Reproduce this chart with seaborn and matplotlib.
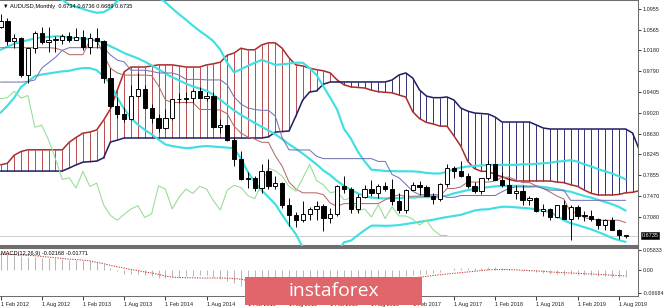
import numpy as np
import pandas as pd
import matplotlib
matplotlib.use("Agg")
import matplotlib.pyplot as plt
import seaborn as sns
from matplotlib.patches import Rectangle

# ---------------- data (AUDUSD monthly, Feb 2012 .. Sep 2019) ----------------
opens = [1.0620, 1.0730, 1.0350, 1.0410, 0.9725, 1.0230, 1.0510, 1.0330, 1.0380, 1.0380,
         1.0440, 1.0380, 1.0430, 1.0240, 1.0410, 1.0360, 0.9660, 0.9140, 0.8990, 0.8910,
         0.9330, 0.9460, 0.9110, 0.8920, 0.8740, 0.8930, 0.9270, 0.9280, 0.9300, 0.9420,
         0.9290, 0.9340, 0.8750, 0.8790, 0.8510, 0.8160, 0.7780, 0.7810, 0.7620, 0.7930,
         0.7650, 0.7710, 0.7310, 0.7110, 0.7020, 0.7130, 0.7230, 0.7290, 0.7070, 0.7140,
         0.7660, 0.7600, 0.7230, 0.7450, 0.7600, 0.7520, 0.7650, 0.7600, 0.7380, 0.7210,
         0.7580, 0.7670, 0.7630, 0.7480, 0.7420, 0.7690, 0.7990, 0.7940, 0.7840, 0.7650,
         0.7560, 0.7800, 0.8060, 0.7760, 0.7680, 0.7530, 0.7560, 0.7400, 0.7430, 0.7190,
         0.7230, 0.7080, 0.7310, 0.7050, 0.7270, 0.7100, 0.7100, 0.7040, 0.6930, 0.7020,
         0.6840, 0.6734]
highs = [1.0857, 1.0780, 1.0480, 1.0420, 1.0240, 1.0540, 1.0620, 1.0620, 1.0450, 1.0480,
         1.0530, 1.0600, 1.0550, 1.0500, 1.0597, 1.0380, 0.9860, 0.9320, 0.9120, 0.9530,
         0.9760, 0.9530, 0.9180, 0.8990, 0.9080, 0.9280, 0.9380, 0.9400, 0.9460, 0.9505,
         0.9400, 0.9400, 0.8910, 0.8800, 0.8560, 0.8300, 0.7910, 0.7850, 0.8070, 0.8163,
         0.7850, 0.7730, 0.7440, 0.7170, 0.7380, 0.7260, 0.7380, 0.7320, 0.7240, 0.7680,
         0.7835, 0.7640, 0.7510, 0.7680, 0.7760, 0.7700, 0.7730, 0.7780, 0.7530, 0.7610,
         0.7740, 0.7750, 0.7680, 0.7520, 0.7710, 0.8066, 0.8020, 0.8125, 0.7900, 0.7730,
         0.7810, 0.8136, 0.8070, 0.7920, 0.7810, 0.7680, 0.7680, 0.7480, 0.7450, 0.7320,
         0.7240, 0.7310, 0.7390, 0.7296, 0.7300, 0.7200, 0.7210, 0.7070, 0.7050, 0.7080,
         0.6860, 0.6736]
lows = [1.0590, 1.0280, 1.0220, 0.9690, 0.9580, 1.0130, 1.0300, 1.0150, 1.0150, 1.0300,
        1.0340, 1.0380, 1.0190, 1.0120, 1.0220, 0.9580, 0.9110, 0.8920, 0.8850, 0.8880,
        0.9320, 0.9080, 0.8820, 0.8660, 0.8710, 0.8890, 0.9200, 0.9210, 0.9210, 0.9290,
        0.9240, 0.8740, 0.8640, 0.8490, 0.8035, 0.7767, 0.7626, 0.7561, 0.7533, 0.7600,
        0.7600, 0.7250, 0.6908, 0.6893, 0.6980, 0.7020, 0.7020, 0.6827, 0.6970, 0.7090,
        0.7520, 0.7150, 0.7150, 0.7440, 0.7480, 0.7440, 0.7560, 0.7310, 0.7160, 0.7160,
        0.7580, 0.7490, 0.7470, 0.7330, 0.7370, 0.7640, 0.7810, 0.7830, 0.7620, 0.7530,
        0.7500, 0.7760, 0.7760, 0.7640, 0.7520, 0.7410, 0.7310, 0.7310, 0.7180, 0.7090,
        0.7020, 0.7060, 0.7040, 0.6650, 0.7050, 0.7000, 0.7010, 0.6860, 0.6830, 0.6830,
        0.6680, 0.6689]
closes = [1.0730, 1.0350, 1.0410, 0.9725, 1.0230, 1.0510, 1.0330, 1.0380, 1.0380, 1.0440,
          1.0380, 1.0430, 1.0240, 1.0410, 1.0360, 0.9660, 0.9140, 0.8990, 0.8910, 0.9330,
          0.9460, 0.9110, 0.8920, 0.8740, 0.8930, 0.9270, 0.9280, 0.9300, 0.9420, 0.9290,
          0.9340, 0.8750, 0.8790, 0.8510, 0.8160, 0.7780, 0.7810, 0.7620, 0.7930, 0.7650,
          0.7710, 0.7310, 0.7110, 0.7020, 0.7130, 0.7230, 0.7290, 0.7070, 0.7140, 0.7660,
          0.7600, 0.7230, 0.7450, 0.7600, 0.7520, 0.7650, 0.7600, 0.7380, 0.7210, 0.7580,
          0.7670, 0.7630, 0.7480, 0.7420, 0.7690, 0.7990, 0.7940, 0.7840, 0.7650, 0.7560,
          0.7800, 0.8060, 0.7760, 0.7680, 0.7530, 0.7560, 0.7400, 0.7430, 0.7190, 0.7230,
          0.7080, 0.7310, 0.7050, 0.7270, 0.7100, 0.7100, 0.7040, 0.6930, 0.7020, 0.6840,
          0.6740, 0.6735]

# Bollinger bands (upper / middle / lower), one value per month
bb_upper = [1.125, 1.123, 1.120, 1.118, 1.116, 1.115, 1.116, 1.117, 1.116, 1.112,
            1.103, 1.099, 1.095, 1.091, 1.088, 1.089, 1.096, 1.110, 1.122, 1.128,
            1.130, 1.128, 1.125, 1.116, 1.1075, 1.096, 1.085, 1.075, 1.064, 1.054,
            1.045, 1.035, 1.019, 0.995, 0.977, 0.983, 0.989, 0.995, 1.000, 0.996,
            0.991, 0.992, 0.9935, 0.995, 0.995, 0.985, 0.972, 0.951, 0.930, 0.908,
            0.872, 0.854, 0.830, 0.8115, 0.796, 0.795, 0.7936, 0.7935, 0.793, 0.793,
            0.793, 0.792, 0.790, 0.789, 0.789, 0.792, 0.797, 0.800, 0.802, 0.803,
            0.804, 0.8048, 0.805, 0.805, 0.805, 0.805, 0.806, 0.806, 0.807, 0.808,
            0.809, 0.811, 0.812, 0.8137, 0.811, 0.806, 0.802, 0.797, 0.793, 0.789,
            0.784, 0.778]
bb_middle = [1.019, 1.025, 1.030, 1.034, 1.037, 1.0403, 1.042, 1.043, 1.044, 1.044,
             1.0415, 1.041, 1.040, 1.038, 1.036, 1.032, 1.0257, 1.0196, 1.013, 1.008,
             1.003, 0.997, 0.990, 0.983, 0.975, 0.968, 0.962, 0.956, 0.951, 0.947,
             0.943, 0.935, 0.926, 0.916, 0.9065, 0.898, 0.8905, 0.883, 0.876, 0.869,
             0.862, 0.853, 0.8435, 0.835, 0.826, 0.816, 0.806, 0.7946, 0.786, 0.775,
             0.766, 0.759, 0.752, 0.7475, 0.744, 0.743, 0.7426, 0.743, 0.743, 0.744,
             0.744, 0.745, 0.745, 0.745, 0.7455, 0.748, 0.752, 0.755, 0.758, 0.760,
             0.762, 0.7636, 0.765, 0.766, 0.766, 0.766, 0.766, 0.765, 0.765, 0.764,
             0.762, 0.760, 0.757, 0.7551, 0.751, 0.747, 0.744, 0.740, 0.736, 0.732,
             0.727, 0.720]
bb_lower = [0.902, 0.915, 0.930, 0.950, 0.960, 0.970, 0.973, 0.975, 0.977, 0.979,
            0.980, 0.983, 0.985, 0.985, 0.981, 0.970, 0.955, 0.930, 0.909, 0.892,
            0.880, 0.870, 0.862, 0.852, 0.843, 0.840, 0.838, 0.836, 0.837, 0.839,
            0.840, 0.839, 0.838, 0.837, 0.836, 0.817, 0.792, 0.773, 0.758, 0.745,
            0.732, 0.712, 0.6935, 0.676, 0.6514, 0.645, 0.640, 0.638, 0.639, 0.642,
            0.661, 0.664, 0.674, 0.6835, 0.692, 0.692, 0.6916, 0.692, 0.693, 0.695,
            0.697, 0.699, 0.701, 0.703, 0.7057, 0.708, 0.710, 0.712, 0.716, 0.720,
            0.722, 0.7224, 0.725, 0.727, 0.727, 0.726, 0.725, 0.724, 0.722, 0.720,
            0.717, 0.710, 0.702, 0.6965, 0.693, 0.689, 0.685, 0.680, 0.675, 0.669,
            0.665, 0.6618]

# Ichimoku: Tenkan-sen and Kijun-sen, one value per month
tenkan = [1.023, 1.023, 1.023, 1.023, 1.023, 1.023, 1.023, 1.023, 1.022, 1.018,
          1.010, 1.010, 1.010, 1.037, 1.037, 1.010, 0.985, 0.976, 0.972, 0.972,
          0.972, 0.972, 0.971, 0.952, 0.926, 0.921, 0.921, 0.921, 0.921, 0.908,
          0.908, 0.908, 0.907, 0.900, 0.877, 0.864, 0.857, 0.853, 0.847, 0.847,
          0.822, 0.8025, 0.773, 0.760, 0.753, 0.753, 0.753, 0.7495, 0.734, 0.728,
          0.733, 0.733, 0.733, 0.733, 0.733, 0.733, 0.740, 0.746, 0.749, 0.7465,
          0.7465, 0.747, 0.747, 0.747, 0.747, 0.761, 0.761, 0.764, 0.773, 0.773,
          0.773, 0.773, 0.775, 0.782, 0.782, 0.777, 0.772, 0.772, 0.766, 0.761,
          0.7545, 0.747, 0.7415, 0.7165, 0.7165, 0.7065, 0.705, 0.702, 0.702, 0.702,
          0.702, 0.6975]
kijun = [0.959, 0.959, 0.959, 0.959, 0.960, 0.963, 0.985, 0.995, 1.005, 1.018,
         1.023, 1.023, 1.023, 1.023, 1.023, 1.023, 1.0095, 1.000, 0.9965, 0.981,
         0.981, 0.981, 0.979, 0.976, 0.976, 0.976, 0.972, 0.964, 0.964, 0.964,
         0.963, 0.963, 0.963, 0.954, 0.9316, 0.918, 0.911, 0.908, 0.9065, 0.9065,
         0.8957, 0.8555, 0.833, 0.8327, 0.8327, 0.8327, 0.821, 0.8166, 0.8166, 0.8166,
         0.8166, 0.8166, 0.8166, 0.8166, 0.8166, 0.8114, 0.8114, 0.787, 0.781, 0.769,
         0.756, 0.7495, 0.7495, 0.7495, 0.7495, 0.7446, 0.7446, 0.748, 0.748, 0.748,
         0.748, 0.748, 0.748, 0.755, 0.761, 0.764, 0.764, 0.764, 0.765, 0.761,
         0.758, 0.758, 0.758, 0.739, 0.739, 0.739, 0.739, 0.739, 0.739, 0.739,
         0.739, 0.739]

# Ichimoku cloud (Senkou span A / B), already projected forward: Feb 2012 .. Nov 2019
senkou_a = [0.805, 0.808, 0.823, 0.830, 0.833, 0.833, 0.833, 0.833, 0.833, 0.833,
            0.847, 0.856, 0.864, 0.866, 0.870, 0.888, 0.909, 0.944, 0.978, 0.987,
            0.987, 0.987, 0.989, 0.991, 0.991, 0.991, 0.989, 0.987, 0.987, 0.987,
            0.991, 0.993, 0.996, 1.009, 1.013, 1.022, 1.019, 1.019, 1.028, 1.032,
            1.032, 1.022, 1.004, 0.991, 0.989, 0.985, 0.982, 0.980, 0.976, 0.963,
            0.954, 0.950, 0.949, 0.948, 0.944, 0.941, 0.940, 0.939, 0.935, 0.931,
            0.904, 0.891, 0.884, 0.881, 0.877, 0.877, 0.859, 0.840, 0.812, 0.798,
            0.793, 0.793, 0.787, 0.783, 0.778, 0.775, 0.775, 0.775, 0.775, 0.775,
            0.775, 0.773, 0.772, 0.768, 0.765, 0.758, 0.752, 0.749, 0.749, 0.749,
            0.750, 0.753, 0.754, 0.757]
senkou_b = [0.7935, 0.7935, 0.7935, 0.7935, 0.7935, 0.7935, 0.7935, 0.7935, 0.7935, 0.7935,
            0.7991, 0.805, 0.810, 0.811, 0.812, 0.818, 0.8475, 0.851, 0.855, 0.855,
            0.855, 0.855, 0.855, 0.855, 0.855, 0.855, 0.855, 0.855, 0.855, 0.855,
            0.855, 0.855, 0.855, 0.855, 0.855, 0.855, 0.855, 0.855, 0.855, 0.857,
            0.866, 0.867, 0.868, 0.896, 0.9257, 0.9406, 0.9425, 0.955, 0.9592, 0.9592,
            0.9592, 0.9592, 0.9592, 0.9592, 0.9592, 0.9592, 0.9592, 0.9629, 0.9722, 0.976,
            0.9666, 0.9443, 0.933, 0.930, 0.930, 0.9313, 0.9257, 0.9108, 0.905, 0.9015,
            0.9005, 0.8996, 0.894, 0.8847, 0.8847, 0.8847, 0.8847, 0.8847, 0.8792, 0.8736,
            0.8717, 0.8717, 0.8717, 0.8717, 0.8717, 0.8717, 0.8717, 0.8717, 0.8717, 0.8717,
            0.8717, 0.8717, 0.8643, 0.8326]

# MACD(12,26,9): main (histogram) and signal, one value per month
macd_main = [0.048, 0.046, 0.044, 0.040, 0.037, 0.036, 0.035, 0.034, 0.033, 0.031,
             0.029, 0.028, 0.026, 0.025, 0.023, 0.016, 0.006, -0.004, -0.011, -0.012,
             -0.012, -0.015, -0.019, -0.023, -0.024, -0.022, -0.020, -0.019, -0.017, -0.016,
             -0.016, -0.020, -0.025, -0.031, -0.039, -0.047, -0.053, -0.058, -0.059, -0.061,
             -0.063, -0.065, -0.067, -0.0668, -0.066, -0.064, -0.061, -0.059, -0.056, -0.050,
             -0.045, -0.043, -0.039, -0.034, -0.031, -0.027, -0.024, -0.023, -0.023, -0.019,
             -0.015, -0.012, -0.011, -0.010, -0.006, 0.001, 0.004, 0.006, 0.006, 0.005,
             0.006, 0.009, 0.008, 0.006, 0.003, 0.001, -0.002, -0.004, -0.007, -0.009,
             -0.012, -0.012, -0.014, -0.013, -0.014, -0.015, -0.016, -0.018, -0.018, -0.020,
             -0.022, -0.02168]
macd_signal = [0.045, 0.045, 0.044, 0.043, 0.042, 0.041, 0.039, 0.037, 0.035, 0.033,
               0.031, 0.030, 0.028, 0.026, 0.022, 0.018, 0.013, 0.009, 0.005, 0.001,
               -0.002, -0.006, -0.009, -0.013, -0.018, -0.021, -0.022, -0.0225, -0.023, -0.0235,
               -0.0235, -0.0235, -0.0235, -0.024, -0.025, -0.027, -0.031, -0.035, -0.040, -0.045,
               -0.050, -0.054, -0.058, -0.061, -0.063, -0.064, -0.0645, -0.064, -0.063, -0.061,
               -0.058, -0.055, -0.052, -0.048, -0.044, -0.040, -0.036, -0.032, -0.029, -0.026,
               -0.023, -0.021, -0.019, -0.016, -0.0145, -0.012, -0.010, -0.008, -0.006, -0.004,
               -0.002, 0.000, 0.001, 0.001, 0.001, 0.000, -0.001, -0.002, -0.003, -0.004,
               -0.006, -0.007, -0.008, -0.009, -0.010, -0.011, -0.012, -0.013, -0.014, -0.0155,
               -0.0165, -0.01771]

price_ticks = [1.0955, 1.0565, 1.0180, 0.9790, 0.9405, 0.9020, 0.8630, 0.8245, 0.7855, 0.7470, 0.7080]
macd_ticks = [0.05833, 0.0, -0.06684]
macd_tick_labels = ["0.05833", "0.00", "-0.06684"]
date_ticks = ["2012-02", "2012-08", "2013-02", "2013-08", "2014-02", "2014-08", "2015-02", "2015-08",
              "2016-02", "2016-08", "2017-02", "2017-08", "2018-02", "2018-08", "2019-02", "2019-08"]
title_text = "\u25BC AUDUSD,Monthly  0.6734 0.6736 0.6689 0.6735"
macd_title = "MACD(12,26,9) -0.02168 -0.01771"
last_price = 0.6735
chikou_shift = 26

# ---------------- figure ----------------
sns.set_style("white")
plt.rcParams["font.family"] = ["Liberation Sans", "DejaVu Sans"]

DPI = 124
W, H = 665, 307
fig = plt.figure(figsize=(W / DPI, H / DPI), dpi=DPI, facecolor="white")


def px_axes(x0, y0, x1, y1):
    return fig.add_axes([x0 / W, 1 - y1 / H, (x1 - x0) / W, (y1 - y0) / H])


ax = px_axes(0, 0, 638, 246)
axm = px_axes(0, 247.5, 638, 296)

start = pd.Period("2012-02", freq="M")
n = len(closes)
x = np.arange(n)
o, h, l, c = map(np.asarray, (opens, highs, lows, closes))

# cloud
sa = np.asarray(senkou_a)
sb = np.asarray(senkou_b)
xc = np.arange(len(sa))
up_cloud = sa >= sb
ax.vlines(xc[up_cloud], sb[up_cloud], sa[up_cloud], color="#b5474a", lw=0.55, zorder=1)
ax.vlines(xc[~up_cloud], sa[~up_cloud], sb[~up_cloud], color="#2b2b72", lw=0.55, zorder=1)
sns.lineplot(x=xc, y=sa, ax=ax, color="#a82e2e", lw=0.9, zorder=2)
sns.lineplot(x=xc, y=sb, ax=ax, color="#1f1f66", lw=0.9, zorder=2)

# Bollinger
for band in (bb_upper, bb_middle, bb_lower):
    sns.lineplot(x=x, y=band, ax=ax, color="#3fdfe3", lw=1.25, zorder=3)

# Tenkan / Kijun / Chikou
sns.lineplot(x=x, y=tenkan, ax=ax, color="#b56a6a", lw=0.6, zorder=3)
sns.lineplot(x=x, y=kijun, ax=ax, color="#7474b4", lw=0.6, zorder=3)
sns.lineplot(x=x[chikou_shift:] - chikou_shift, y=c[chikou_shift:], ax=ax,
             color="#93dc93", lw=0.6, zorder=3)

# current price line
ax.axhline(last_price, color="#c8c8c8", lw=0.5, zorder=0.5)

# candles
bull = c >= o
body_lo = np.minimum(o, c)
body_h = np.maximum(np.abs(c - o), 0.0012)
ax.vlines(x, l, h, color="black", lw=0.55, zorder=4)
ax.bar(x[bull], body_h[bull], bottom=body_lo[bull], width=0.62, color="white",
       edgecolor="black", linewidth=0.55, zorder=5)
ax.bar(x[~bull], body_h[~bull], bottom=body_lo[~bull], width=0.62, color="black",
       edgecolor="black", linewidth=0.55, zorder=5)

XL = (-0.073, 92.8)
ax.set_xlim(*XL)
ax.set_ylim(0.65409, 1.11168)
ax.set_xticks([])
ax.yaxis.tick_right()
ax.set_yticks(price_ticks)
ax.set_yticklabels([f"{v:.4f}" for v in price_ticks])
ax.tick_params(axis="y", length=2.0, width=0.5, pad=0.9, labelsize=3.2, colors="#222222")
ax.spines["left"].set_visible(False)
for s in ("top", "right", "bottom"):
    ax.spines[s].set_color("#6e6e6e")
ax.spines["bottom"].set_linewidth(1.2)
ax.spines["right"].set_linewidth(0.6)
ax.spines["top"].set_linewidth(0.6)
ax.set_xlabel("")
ax.set_ylabel("")

ax.text(0.004, 0.985, title_text, transform=ax.transAxes, fontsize=3.3,
        va="top", ha="left", color="black", zorder=10)

# last price box
ax.annotate(f"{last_price:.4f}", xy=(1.0, last_price), xycoords=("axes fraction", "data"),
            xytext=(2.0, 0), textcoords="offset points", va="center", ha="left",
            fontsize=3.2, color="white", annotation_clip=False,
            bbox=dict(boxstyle="square,pad=0.15", fc="black", ec="black", lw=0.3))

# MACD
m = np.asarray(macd_main)
axm.vlines(x, 0, m, color="#b9b9b9", lw=0.6, zorder=2)
sns.lineplot(x=x, y=macd_signal, ax=axm, color="#c23b3b", lw=0.6, zorder=3)
axm.lines[-1].set_linestyle((0, (1.2, 1.2)))
axm.set_xlim(*XL)
axm.set_ylim(-0.07551, 0.06469)
axm.yaxis.tick_right()
axm.set_yticks(macd_ticks)
axm.set_yticklabels(macd_tick_labels)
date_pos = [(pd.Period(d, freq="M") - start).n for d in date_ticks]
date_lab = ["1 " + pd.Period(d, freq="M").strftime("%b %Y") for d in date_ticks]
axm.set_xticks(date_pos)
axm.set_xticklabels(date_lab, ha="left")
axm.tick_params(axis="y", length=2.0, width=0.5, pad=0.8, labelsize=3.1, colors="#222222")
axm.tick_params(axis="x", length=2.5, width=0.5, pad=0.8, labelsize=3.2, colors="#222222",
                bottom=True)
axm.spines["left"].set_visible(False)
for s in ("top", "right", "bottom"):
    axm.spines[s].set_color("#6e6e6e")
axm.spines["top"].set_linewidth(1.2)
axm.spines["right"].set_linewidth(0.6)
axm.spines["bottom"].set_linewidth(0.6)
axm.set_xlabel("")
axm.set_ylabel("")
axm.text(0.002, 0.93, macd_title, transform=axm.transAxes, fontsize=3.3,
         va="top", ha="left", color="black", zorder=10)

# watermark banner
fig.patches.append(Rectangle((245 / W, 1 - 305 / H), (422 - 245) / W, (305 - 277) / H,
                             transform=fig.transFigure, facecolor="#e0666b", edgecolor="none",
                             zorder=20))
fig.text(333.5 / W, 1 - 290.5 / H, "instaforex", color="white", fontsize=11.2,
         family=["Open Sans", "DejaVu Sans"], ha="center", va="center", zorder=21)

fig.savefig("out.png", dpi=DPI, facecolor="white")
